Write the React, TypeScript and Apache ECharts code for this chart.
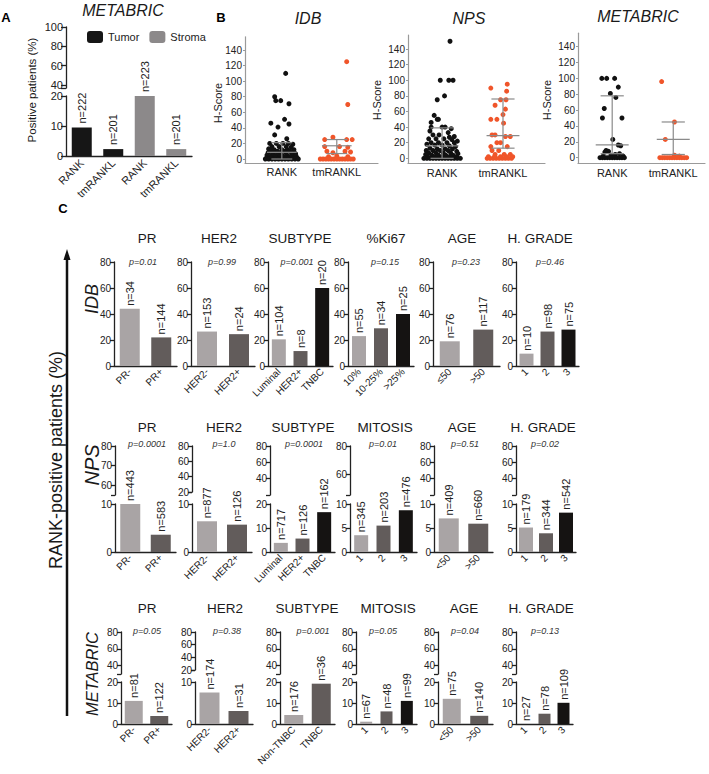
import React, { useEffect, useRef } from 'react';
import * as echarts from 'echarts';

const FONT = 'Liberation Sans, Arial, Helvetica, sans-serif';
const LIGHT = '#a9a4a5';
const MID = '#625c5b';
const DARK = '#151312';
const AX = '#222';

// ---------- Panel A ----------
const A_CATS = ['RANK', 'tmRANKL', 'RANK', 'tmRANKL'];
const A_TUMOR = [9.5, 2.3, '-', '-'];
const A_STROMA = ['-', '-', 20, 2.3];
const A_N = [222, 201, 223, 201];

// ---------- Panel B ----------
const B_CATS = ['RANK', 'tmRANKL'];
const B_TICKS = [0, 20, 40, 60, 80, 100, 120, 140];
const IDB_RANK_PTS = [
  [0.07, 110], [-0.13, 80], [-0.11, 75], [-0.02, 75], [0.13, 71], [-0.2, 46], [0.05, 51], [0.13, 45], [-0.07, 41], [-0.13, 31], [0.09, 26],
  [-0.22, 20], [-0.1, 20], [0.02, 20], [0.12, 20], [0.2, 19], [-0.18, 16], [-0.05, 16], [0.08, 16], [0.17, 15], [-0.24, 13], [-0.14, 12], [0, 12], [0.1, 12], [0.22, 12],
  [-0.2, 10], [-0.08, 10], [0.05, 10], [0.15, 10], [-0.25, 8], [-0.15, 8], [-0.03, 8], [0.08, 8], [0.18, 8], [0.25, 7],
  [-0.27, 5], [-0.18, 5], [-0.09, 5], [0, 5], [0.09, 5], [0.18, 5], [0.26, 4], [-0.22, 3], [-0.12, 3], [-0.03, 3], [0.06, 3], [0.15, 3], [0.24, 2],
  [-0.28, 1], [-0.2, 1], [-0.1, 1], [0, 1], [0.1, 1], [0.2, 1], [0.28, 1],
  [-0.3, 0], [-0.24, 0], [-0.18, 0], [-0.12, 0], [-0.06, 0], [0, 0], [0.06, 0], [0.12, 0], [0.18, 0], [0.24, 0], [0.3, 0],
];
const IDB_TM_PTS = [
  [1.18, 125], [1.2, 70], [0.78, 25], [0.93, 28], [1.18, 25], [1.28, 25], [0.78, 16], [1.05, 16], [1.2, 15],
  [0.82, 10], [0.93, 8], [1.15, 10], [1.25, 9], [0.85, 3], [1.0, 4], [1.2, 3],
  [0.7, 0], [0.75, 0], [0.8, 0], [0.85, 0], [0.9, 0], [0.95, 0], [1.0, 0], [1.05, 0], [1.1, 0], [1.15, 0], [1.2, 0], [1.25, 0], [1.3, 0],
];
const IDB_ERR = [[0, 8.6, 0, 21], [1, 17, 7, 25]];

const NPS_RANK_PTS = [
  [0.13, 150], [-0.03, 100], [0.11, 100], [0.18, 100], [0.04, 80], [-0.08, 75], [-0.13, 55], [-0.08, 50], [-0.06, 50], [-0.18, 46], [-0.18, 40], [0.0, 40], [0.05, 40],
  [0.15, 38], [-0.2, 35], [0.1, 33], [-0.15, 30], [-0.05, 30], [0.2, 28], [0.12, 27], [-0.22, 25], [-0.1, 25], [0.03, 25], [0.16, 24], [0.25, 22],
  [-0.18, 20], [-0.06, 20], [0.08, 20], [0.2, 20], [-0.25, 18], [-0.12, 17], [0, 17], [0.12, 16], [0.22, 15], [-0.2, 13], [-0.08, 12], [0.05, 12], [0.17, 12],
  [-0.26, 10], [-0.15, 10], [-0.03, 10], [0.1, 10], [0.24, 9], [-0.22, 7], [-0.1, 7], [0.02, 7], [0.14, 7], [0.26, 6],
  [-0.27, 5], [-0.17, 4], [-0.06, 4], [0.06, 4], [0.18, 4], [-0.24, 2], [-0.13, 2], [0, 2], [0.12, 2], [0.24, 2],
  [-0.3, 0], [-0.25, 0], [-0.2, 0], [-0.15, 0], [-0.1, 0], [-0.05, 0], [0, 0], [0.05, 0], [0.1, 0], [0.15, 0], [0.2, 0], [0.25, 0], [0.3, 0],
];
const NPS_TM_PTS = [
  [1.07, 95], [0.8, 90], [1.06, 86], [0.96, 75], [1.05, 75], [0.87, 68], [1.04, 63], [1.0, 56], [0.8, 50], [0.9, 50], [1.01, 45],
  [0.82, 30], [0.87, 30], [1.04, 28], [1.12, 28], [0.9, 20], [0.96, 20], [0.8, 15], [1.07, 15], [0.93, 10], [0.82, 10],
  [0.87, 5], [1.02, 5], [1.12, 5],
  [0.74, 0], [0.79, 0], [0.84, 0], [0.89, 0], [0.94, 0], [0.99, 0], [1.04, 0], [1.09, 0], [1.14, 0], [0.76, 2], [0.86, 2], [0.96, 2], [1.06, 2], [1.16, 2],
];
const NPS_ERR = [[0, 16, 0, 39], [1, 29, 13, 76]];

const MET_RANK_PTS = [
  [-0.17, 100], [-0.09, 100], [0.04, 100], [0.1, 89], [-0.03, 81], [0.06, 76], [-0.13, 62], [-0.16, 50], [0.16, 50], [0.01, 23], [0.1, 16], [0.14, 15],
  [-0.1, 9], [-0.06, 8], [-0.12, 7], [0.12, 5], [0.05, 4], [-0.02, 3], [-0.15, 2], [0.18, 2],
  [-0.2, 0], [-0.16, 0], [-0.12, 0], [-0.08, 0], [-0.04, 0], [0, 0], [0.04, 0], [0.08, 0], [0.12, 0], [0.16, 0], [0.2, 0],
];
const MET_TM_PTS = [
  [0.81, 96], [1.02, 45], [0.87, 23], [1.02, 3], [1.1, 2],
  [0.78, 0], [0.82, 0], [0.86, 0], [0.9, 0], [0.94, 0], [0.98, 0], [1.02, 0], [1.06, 0], [1.1, 0], [1.14, 0], [1.18, 0], [1.22, 0],
];
const MET_ERR = [[0, 16, 5, 78], [1, 23, 4, 45]];

// ---------- Panel C ----------
const IDB_PR_L = ['PR-', 'PR+']; const IDB_PR_V = [44, 22]; const IDB_PR_N = [34, 144];
const IDB_HER2_L = ['HER2-', 'HER2+']; const IDB_HER2_V = [26.5, 24.5]; const IDB_HER2_N = [153, 24];
const IDB_SUB_L = ['Luminal', 'HER2+', 'TNBC']; const IDB_SUB_V = [20.5, 11.5, 60]; const IDB_SUB_N = [104, 8, 20];
const IDB_KI_L = ['10%', '10-25%', '>25%']; const IDB_KI_V = [23, 29, 40]; const IDB_KI_N = [55, 34, 25];
const IDB_AGE_L = ['≤50', '>50']; const IDB_AGE_V = [19, 28]; const IDB_AGE_N = [76, 117];
const IDB_GR_L = ['1', '2', '3']; const IDB_GR_V = [9.5, 26.5, 28]; const IDB_GR_N = [10, 98, 75];

const NPS_PR_L = ['PR-', 'PR+']; const NPS_PR_V = [10, 3.6]; const NPS_PR_N = [443, 583];
const NPS_HER2_L = ['HER2-', 'HER2+']; const NPS_HER2_V = [6.4, 5.7]; const NPS_HER2_N = [877, 126];
const NPS_SUB_L = ['Luminal', 'HER2+', 'TNBC']; const NPS_SUB_V = [3.8, 5.6, 16.6]; const NPS_SUB_N = [717, 126, 162];
const NPS_MIT_L = ['1', '2', '3']; const NPS_MIT_V = [3.5, 5.5, 8.7]; const NPS_MIT_N = [345, 203, 476];
const NPS_AGE_L = ['<50', '>50']; const NPS_AGE_V = [7, 5.9]; const NPS_AGE_N = [409, 660];
const NPS_GR_L = ['1', '2', '3']; const NPS_GR_V = [5.1, 3.9, 8.2]; const NPS_GR_N = [179, 344, 542];

const MET_PR_L = ['PR-', 'PR+']; const MET_PR_V = [11, 3.8]; const MET_PR_N = [81, 122];
const MET_HER2_L = ['HER2-', 'HER2+']; const MET_HER2_V = [7.5, 3.1]; const MET_HER2_N = [174, 31];
const MET_SUB_L = ['Non-TNBC', 'TNBC']; const MET_SUB_V = [4.3, 19.2]; const MET_SUB_N = [176, 36];
const MET_MIT_L = ['1', '2', '3']; const MET_MIT_V = [1.1, 6, 11]; const MET_MIT_N = [67, 48, 99];
const MET_AGE_L = ['<50', '>50']; const MET_AGE_V = [12, 3.9]; const MET_AGE_N = [75, 140];
const MET_GR_L = ['1', '2', '3']; const MET_GR_V = [0, 4.9, 10.1]; const MET_GR_N = [27, 78, 109];

function buildOption() {
  const grid: any[] = [];
  const xAxis: any[] = [];
  const yAxis: any[] = [];
  const series: any[] = [];
  const graphic: any[] = [];

  const addGrid = (left: number, top: number, width: number, height: number) => {
    grid.push({ left, top, width, height, containLabel: false });
    return grid.length - 1;
  };
  const txt = (text: string, x: number, y: number, o: any = {}) => {
    const size = o.size || 12;
    graphic.push({
      type: 'text', x, y, rotation: o.rot ? Math.PI / 2 : 0, silent: true,
      style: {
        text, x: 0, y: 0, fill: o.color || '#1a1a1a',
        font: `${o.italic ? 'italic ' : ''}${o.bold ? 'bold ' : ''}${size}px ${FONT}`,
        align: o.align || 'center', verticalAlign: 'middle',
        textAlign: o.align || 'center', textVerticalAlign: 'middle',
      },
    });
  };
  const valueY = (gi: number, min: number, max: number, labels: number[], ticks: number[], o: any = {}) => {
    yAxis.push({
      gridIndex: gi, type: 'value', min, max,
      axisLine: { show: true, onZero: false, lineStyle: { color: o.color || AX, width: o.lw || 1.3 } },
      axisTick: { show: true, length: o.tl || 4, customValues: ticks, lineStyle: { color: o.color || AX, width: o.lw || 1.3 } },
      axisLabel: { customValues: labels, fontSize: o.fs || 10, color: '#222', margin: o.margin || 3, fontFamily: FONT },
      splitLine: { show: false },
    });
    return yAxis.length - 1;
  };

  // ===== Panel A =====
  const gAlow = addGrid(66, 96, 126, 60);
  xAxis.push({
    gridIndex: gAlow, type: 'category', data: A_CATS,
    axisLine: { onZero: false, lineStyle: { color: AX, width: 1.3 } },
    axisTick: { alignWithLabel: true, length: 4, lineStyle: { color: AX, width: 1.3 } },
    axisLabel: { rotate: 45, interval: 0, fontSize: 11, color: '#222', margin: 5, fontFamily: FONT },
  });
  const xAlow = xAxis.length - 1;
  const yAlow = valueY(gAlow, 0, 20, [0, 10, 20], [0, 10, 20], { fs: 11, tl: 5 });
  const aLabel = {
    show: true, position: 'top', rotate: 90, align: 'left', verticalAlign: 'middle', distance: 4,
    fontSize: 11, color: '#222', fontFamily: FONT,
    formatter: (p: any) => 'n=' + A_N[p.dataIndex],
  };
  series.push({ type: 'bar', name: 'Tumor', xAxisIndex: xAlow, yAxisIndex: yAlow, data: A_TUMOR, barWidth: 20, barGap: '-100%', itemStyle: { color: '#161616' }, label: aLabel });
  series.push({ type: 'bar', name: 'Stroma', xAxisIndex: xAlow, yAxisIndex: yAlow, data: A_STROMA, barWidth: 20, barGap: '-100%', itemStyle: { color: '#8c898a' }, label: aLabel });
  const gAup = addGrid(66, 27, 126, 61);
  xAxis.push({ gridIndex: gAup, type: 'category', data: A_CATS, show: false });
  valueY(gAup, 37, 100, [40, 60, 80, 100], [37, 40, 60, 80, 100], { fs: 11, tl: 5 });
  txt('METABRIC', 123, 10, { size: 16, italic: true });
  txt('A', 6, 17, { size: 13, bold: true, color: '#000' });
  txt('Positive patients (%)', 32, 90, { size: 11.5, rot: true });

  // ===== Panel B =====
  const errRender = (params: any, api: any) => {
    const x = api.value(0), m = api.value(1), lo = api.value(2), hi = api.value(3);
    const c = api.coord([x, m]), l = api.coord([x, lo]), h = api.coord([x, hi]);
    const wm = api.size([0.27, 0])[0], wc = api.size([0.19, 0])[0];
    const st = { stroke: '#8a8a8a', lineWidth: 1.2 };
    return {
      type: 'group', children: [
        { type: 'line', shape: { x1: l[0], y1: l[1], x2: h[0], y2: h[1] }, style: st },
        { type: 'line', shape: { x1: c[0] - wm, y1: c[1], x2: c[0] + wm, y2: c[1] }, style: st },
        { type: 'line', shape: { x1: h[0] - wc, y1: h[1], x2: h[0] + wc, y2: h[1] }, style: st },
        { type: 'line', shape: { x1: l[0] - wc, y1: l[1], x2: l[0] + wc, y2: l[1] }, style: st },
      ],
    };
  };
  const addScatter = (left: number, top: number, width: number, height: number, xmin: number, xmax: number, ymin: number, ymax: number, rankPts: number[][], tmPts: number[][], err: number[][]) => {
    const gi = addGrid(left, top, width, height);
    xAxis.push({
      gridIndex: gi, type: 'value', min: xmin, max: xmax,
      axisLine: { show: true, onZero: false, lineStyle: { color: '#9a9a9a', width: 1.2 } },
      axisTick: { show: false }, splitLine: { show: false },
      axisLabel: { customValues: [0, 1], formatter: (v: number) => B_CATS[Math.round(v)], fontSize: 11, color: '#222', margin: 4, fontFamily: FONT },
    });
    const xi = xAxis.length - 1;
    const yi = valueY(gi, ymin, ymax, B_TICKS, B_TICKS, { color: '#9a9a9a', lw: 1.2, tl: 2, fs: 10, margin: 3 });
    series.push({ type: 'scatter', xAxisIndex: xi, yAxisIndex: yi, data: rankPts, symbolSize: 5, itemStyle: { color: '#111', opacity: 1 } });
    series.push({ type: 'scatter', xAxisIndex: xi, yAxisIndex: yi, data: tmPts, symbolSize: 5, itemStyle: { color: '#f0552a', opacity: 1 } });
    series.push({ type: 'custom', xAxisIndex: xi, yAxisIndex: yi, data: err, renderItem: errRender, encode: { x: 0, y: [1, 2, 3] }, z: 5, silent: true });
  };
  addScatter(245, 36.8, 133, 126.1, -0.67, 1.75, -5, 157, IDB_RANK_PTS, IDB_TM_PTS, IDB_ERR);
  addScatter(408, 35, 137, 128, -0.56, 1.69, -6, 158, NPS_RANK_PTS, NPS_TM_PTS, NPS_ERR);
  addScatter(578, 33.2, 127, 130, -0.56, 1.52, -7, 157, MET_RANK_PTS, MET_TM_PTS, MET_ERR);
  txt('B', 221, 17, { size: 13, bold: true, color: '#000' });
  txt('IDB', 308, 18, { size: 16, italic: true });
  txt('NPS', 469, 18, { size: 16, italic: true });
  txt('METABRIC', 638, 16, { size: 16, italic: true });
  txt('H-Score', 218, 103, { size: 11, rot: true });
  txt('H-Score', 377, 100, { size: 11, rot: true });
  txt('H-Score', 547, 100, { size: 11, rot: true });

  // ===== Panel C =====
  const addC = (row: any, c: any) => {
    const n3 = c.labels.length === 3;
    const colors = n3 ? [LIGHT, MID, DARK] : [LIGHT, MID];
    const gi = addGrid(c.x, row.lowerTop, c.w, row.lowerH);
    xAxis.push({
      gridIndex: gi, type: 'category', data: c.labels,
      axisLine: { onZero: false, lineStyle: { color: AX, width: 1.3 } },
      axisTick: { alignWithLabel: true, length: 4, lineStyle: { color: AX, width: 1.3 } },
      axisLabel: { rotate: 45, interval: 0, fontSize: 10, color: '#222', margin: 4, fontFamily: FONT },
    });
    const xi = xAxis.length - 1;
    const yi = valueY(gi, 0, c.lmax, c.llab, c.llab);
    series.push({
      type: 'bar', xAxisIndex: xi, yAxisIndex: yi, barWidth: c.bw || (n3 ? 14 : 20),
      data: c.values.map((v: number, i: number) => ({ value: v, itemStyle: { color: colors[i] } })),
      label: {
        show: true, position: 'top', rotate: 90, align: 'left', verticalAlign: 'middle', distance: 3,
        fontSize: 11, color: '#222', fontFamily: FONT,
        formatter: (p: any) => 'n=' + c.ns[p.dataIndex],
      },
    });
    if (c.umin !== undefined) {
      const gu = addGrid(c.x, row.upperTop, c.w, c.uh || row.upperH);
      xAxis.push({ gridIndex: gu, type: 'category', data: c.labels, show: false });
      valueY(gu, c.umin, 80, c.ulab, [c.umin, ...c.ulab]);
    }
    txt(c.title, c.tx, row.titleY, { size: 13.5 });
    txt(c.p, c.px, row.pY, { size: 9, italic: true, color: '#333' });
  };

  const row1 = { lowerTop: 262, lowerH: 104, titleY: 238, pY: 262 };
  const L1 = [0, 20, 40, 60, 80];
  addC(row1, { title: 'PR', tx: 147, p: 'p=0.01', px: 143, labels: IDB_PR_L, values: IDB_PR_V, ns: IDB_PR_N, x: 114, w: 63, lmax: 80, llab: L1 });
  addC(row1, { title: 'HER2', tx: 219, p: 'p=0.99', px: 222, labels: IDB_HER2_L, values: IDB_HER2_V, ns: IDB_HER2_N, x: 191, w: 64, lmax: 80, llab: L1 });
  addC(row1, { title: 'SUBTYPE', tx: 300, p: 'p=0.001', px: 297, labels: IDB_SUB_L, values: IDB_SUB_V, ns: IDB_SUB_N, x: 268, w: 65, lmax: 80, llab: L1 });
  addC(row1, { title: '%Ki67', tx: 386, p: 'p=0.15', px: 385, labels: IDB_KI_L, values: IDB_KI_V, ns: IDB_KI_N, x: 348, w: 66, lmax: 80, llab: L1 });
  addC(row1, { title: 'AGE', tx: 462, p: 'p=0.23', px: 466, labels: IDB_AGE_L, values: IDB_AGE_V, ns: IDB_AGE_N, x: 433, w: 67, lmax: 80, llab: L1 });
  addC(row1, { title: 'H. GRADE', tx: 540, p: 'p=0.46', px: 550, labels: IDB_GR_L, values: IDB_GR_V, ns: IDB_GR_N, x: 516, w: 63, lmax: 80, llab: L1 });

  const row2 = { upperTop: 446, upperH: 49, lowerTop: 504, lowerH: 48, titleY: 427, pY: 444 };
  addC(row2, { title: 'PR', tx: 147, p: 'p=0.0001', px: 147, labels: NPS_PR_L, values: NPS_PR_V, ns: NPS_PR_N, x: 115, w: 61, lmax: 10, llab: [0, 10], umin: 55, ulab: [60, 70, 80] });
  addC(row2, { title: 'HER2', tx: 224, p: 'p=1.0', px: 224, labels: NPS_HER2_L, values: NPS_HER2_V, ns: NPS_HER2_N, x: 192, w: 60, lmax: 10, llab: [0, 10], umin: 20, ulab: [20, 40, 60, 80], uh: 46 });
  addC(row2, { title: 'SUBTYPE', tx: 303, p: 'p=0.0001', px: 304, labels: NPS_SUB_L, values: NPS_SUB_V, ns: NPS_SUB_N, x: 270, w: 65, lmax: 20, llab: [0, 10, 20], umin: 20, ulab: [40, 60, 80] });
  addC(row2, { title: 'MITOSIS', tx: 385, p: 'p=0.01', px: 383, labels: NPS_MIT_L, values: NPS_MIT_V, ns: NPS_MIT_N, x: 350, w: 67, lmax: 10, llab: [0, 5, 10], umin: 45, ulab: [60, 80] });
  addC(row2, { title: 'AGE', tx: 462, p: 'p=0.51', px: 465, labels: NPS_AGE_L, values: NPS_AGE_V, ns: NPS_AGE_N, x: 434, w: 59, lmax: 10, llab: [0, 5, 10], umin: 20, ulab: [40, 60, 80] });
  addC(row2, { title: 'H. GRADE', tx: 543, p: 'p=0.02', px: 545, labels: NPS_GR_L, values: NPS_GR_V, ns: NPS_GR_N, x: 516, w: 60, lmax: 10, llab: [0, 5, 10], umin: 20, ulab: [40, 60, 80] });

  const row3 = { upperTop: 632, upperH: 42, lowerTop: 682, lowerH: 42, titleY: 608, pY: 631 };
  const L3 = [0, 10, 20];
  addC(row3, { title: 'PR', tx: 147, p: 'p=0.05', px: 147, labels: MET_PR_L, values: MET_PR_V, ns: MET_PR_N, x: 121, w: 51, lmax: 20, llab: L3, umin: 30, ulab: [40, 60, 80], bw: 18 });
  addC(row3, { title: 'HER2', tx: 225, p: 'p=0.38', px: 227, labels: MET_HER2_L, values: MET_HER2_V, ns: MET_HER2_N, x: 195, w: 58, lmax: 10, llab: [0, 10], umin: 20, ulab: [20, 40, 60, 80], bw: 20, uh: 38 });
  addC(row3, { title: 'SUBTYPE', tx: 307, p: 'p=0.001', px: 313, labels: MET_SUB_L, values: MET_SUB_V, ns: MET_SUB_N, x: 280, w: 55, lmax: 20, llab: L3, umin: 30, ulab: [40, 60, 80], bw: 19 });
  addC(row3, { title: 'MITOSIS', tx: 388, p: 'p=0.05', px: 383, labels: MET_MIT_L, values: MET_MIT_V, ns: MET_MIT_N, x: 356, w: 61, lmax: 20, llab: L3, umin: 30, ulab: [40, 60, 80], bw: 12 });
  addC(row3, { title: 'AGE', tx: 464, p: 'p=0.04', px: 465, labels: MET_AGE_L, values: MET_AGE_V, ns: MET_AGE_N, x: 438, w: 55, lmax: 20, llab: L3, umin: 30, ulab: [40, 60, 80], bw: 18 });
  addC(row3, { title: 'H. GRADE', tx: 541, p: 'p=0.13', px: 545, labels: MET_GR_L, values: MET_GR_V, ns: MET_GR_N, x: 516, w: 57, lmax: 20, llab: L3, umin: 30, ulab: [40, 60, 80], bw: 12 });

  txt('C', 63, 208, { size: 13, bold: true, color: '#000' });
  txt('RANK-positive patients (%)', 56, 460, { size: 18, rot: true });
  txt('IDB', 92, 299, { size: 18, italic: true, rot: true });
  txt('NPS', 92, 465, { size: 20, italic: true, rot: true });
  txt('METABRIC', 92, 674, { size: 16.5, italic: true, rot: true });
  graphic.push({ type: 'line', shape: { x1: 67, y1: 716, x2: 67, y2: 258 }, style: { stroke: '#111', lineWidth: 2.5 }, silent: true });
  graphic.push({ type: 'polygon', shape: { points: [[67, 249], [63.5, 260], [70.5, 260]] }, style: { fill: '#111' }, silent: true });

  return {
    animation: false,
    backgroundColor: '#fff',
    textStyle: { fontFamily: FONT },
    legend: {
      data: ['Tumor', 'Stroma'], left: 82, top: 26, itemWidth: 16, itemHeight: 12, itemGap: 10,
      textStyle: { fontSize: 11, color: '#222', fontFamily: FONT }, selectedMode: false,
    },
    grid, xAxis, yAxis, series, graphic,
  };
}

export default function App() {
  const ref = useRef<HTMLDivElement>(null);
  useEffect(() => {
    const chart = echarts.init(ref.current!, null, { renderer: 'svg' });
    chart.setOption(buildOption() as any);
    return () => chart.dispose();
  }, []);
  return <div ref={ref} style={{ position: 'absolute', left: 0, top: 0, width: 709, height: 774, background: '#fff' }} />;
}
